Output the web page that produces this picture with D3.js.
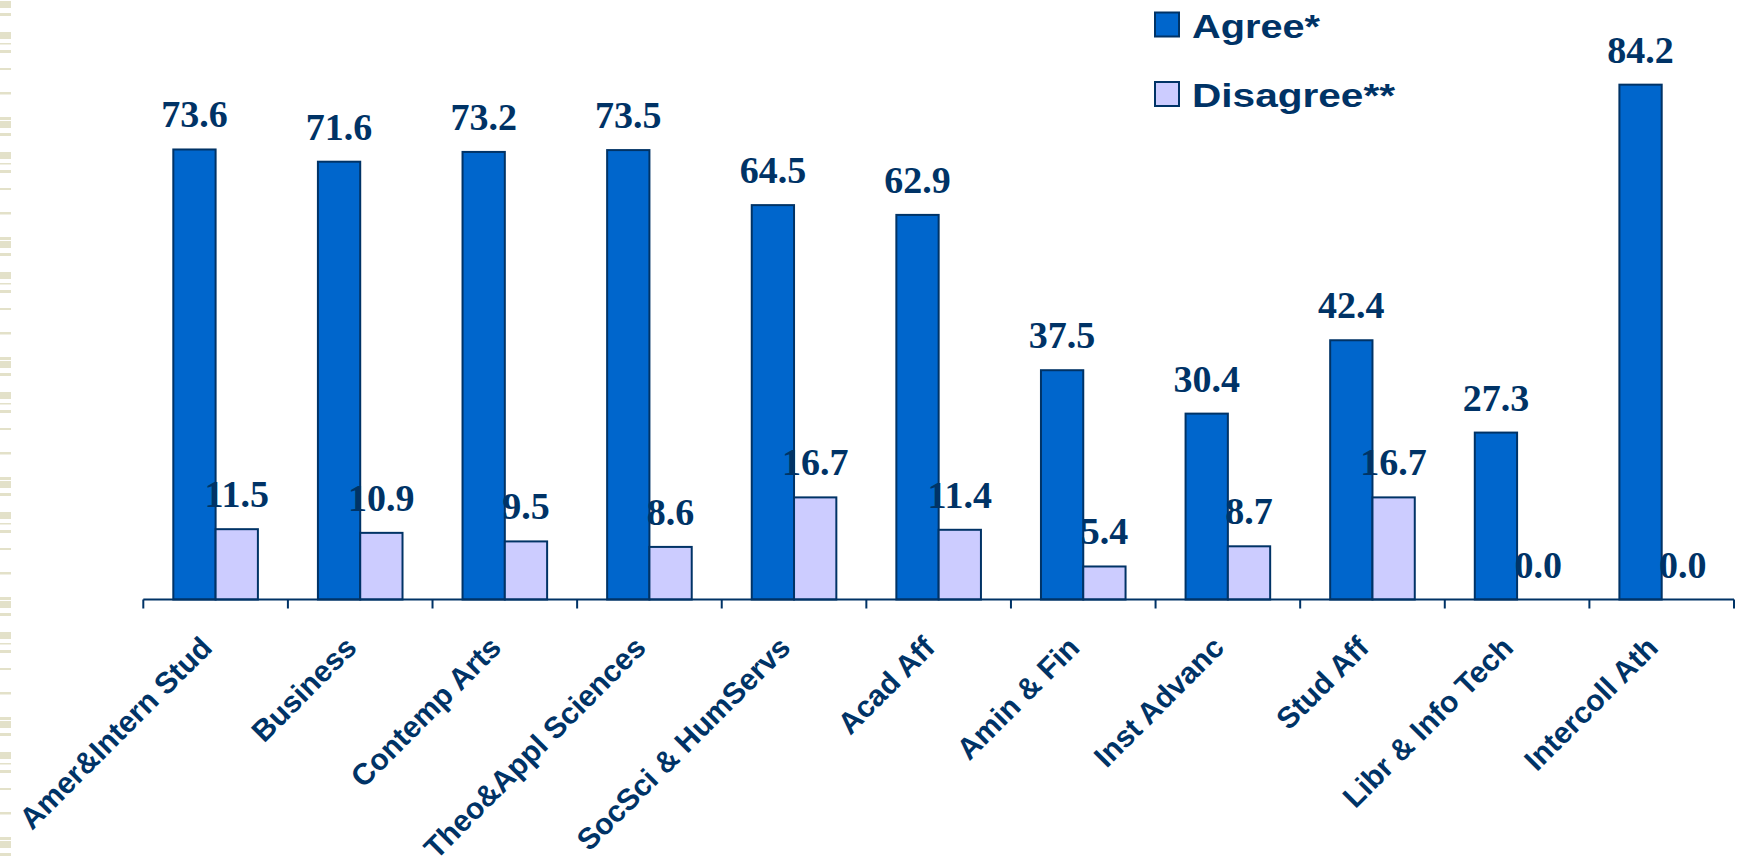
<!DOCTYPE html>
<html>
<head>
<meta charset="utf-8">
<script src="https://cdn.jsdelivr.net/npm/d3@7"></script>
<style>
  html, body { margin: 0; padding: 0; background: #ffffff; }
  svg { display: block; }
</style>
</head>
<body>
<svg id="chart" width="1738" height="861"></svg>
<script>
// Survey results by unit: share agreeing vs. disagreeing (%)
const categories = [
  "Amer&Intern Stud", "Business", "Contemp Arts", "Theo&Appl Sciences",
  "SocSci & HumServs", "Acad Aff", "Amin & Fin", "Inst Advanc",
  "Stud Aff", "Libr & Info Tech", "Intercoll Ath"
];
const agree    = [73.6, 71.6, 73.2, 73.5, 64.5, 62.9, 37.5, 30.4, 42.4, 27.3, 84.2];
const disagree = [11.5, 10.9, 9.5, 8.6, 16.7, 11.4, 5.4, 8.7, 16.7, 0.0, 0.0];
const seriesNames = ["Agree*", "Disagree**"];

const navy = "#003366";
const fills = ["#0066cc", "#ccccff"];

const svg = d3.select("#chart");

// Decorative striped strip along the left edge
const defs = svg.append("defs");
const pat = defs.append("pattern")
  .attr("id", "edgeStripes")
  .attr("patternUnits", "userSpaceOnUse")
  .attr("width", 11).attr("height", 120);
[[1, 7], [13, 3], [32, 7], [43, 1.5], [50, 3], [68, 2], [92, 2.5], [117, 3]]
  .forEach(([y, h]) => pat.append("rect")
    .attr("x", 0).attr("y", y).attr("width", 11).attr("height", h)
    .attr("fill", "#e3e1c9"));
svg.append("rect").attr("x", 0).attr("y", 0).attr("width", 11).attr("height", 861)
  .attr("fill", "url(#edgeStripes)");

const rows = categories.map((c, i) => ({ cat: c, values: [agree[i], disagree[i]] }));

const x0 = d3.scaleBand()
  .domain(categories)
  .range([143.3, 1734])
  .paddingInner(0.415)
  .paddingOuter(0.2075);

const x1 = d3.scaleBand()
  .domain(d3.range(seriesNames.length))
  .range([0, x0.bandwidth()])
  .padding(0);

const y = d3.scaleLinear().domain([0, 90]).range([599.5, 49.2]);

// Bars
const groups = svg.append("g").selectAll("g")
  .data(rows).join("g")
  .attr("transform", d => `translate(${x0(d.cat)},0)`);

groups.selectAll("rect")
  .data(d => d.values.map((v, k) => ({ v, k })))
  .join("rect")
  .attr("x", d => x1(d.k))
  .attr("y", d => y(d.v))
  .attr("width", x1.bandwidth())
  .attr("height", d => y(0) - y(d.v))
  .attr("fill", d => fills[d.k])
  .attr("stroke", navy)
  .attr("stroke-width", 2);

// Value labels
groups.selectAll("text")
  .data(d => d.values.map((v, k) => ({ v, k })))
  .join("text")
  .attr("x", d => x1(d.k) + x1.bandwidth() / 2)
  .attr("y", d => y(d.v) - 22)
  .attr("text-anchor", "middle")
  .attr("font-family", "'Liberation Serif', 'Times New Roman', serif")
  .attr("font-weight", "bold")
  .attr("font-size", 38)
  .attr("fill", navy)
  .text(d => d.v.toFixed(1));

// Category axis with ticks at band boundaries
const step = x0.step();
const x0Start = x0.range()[0];
const axisG = svg.append("g").attr("transform", `translate(0,${y(0)})`);
axisG.append("line")
  .attr("x1", x0Start).attr("x2", x0.range()[1])
  .attr("y1", 0).attr("y2", 0)
  .attr("stroke", navy).attr("stroke-width", 2);
axisG.selectAll("line.tick")
  .data(d3.range(categories.length + 1))
  .join("line")
  .attr("class", "tick")
  .attr("x1", i => x0Start + i * step).attr("x2", i => x0Start + i * step)
  .attr("y1", 0).attr("y2", 9)
  .attr("stroke", navy).attr("stroke-width", 2);

axisG.selectAll("text")
  .data(categories)
  .join("text")
  .attr("transform", d => `translate(${x0(d) + x0.bandwidth() / 2 - 2},50) rotate(-45)`)
  .attr("text-anchor", "end")
  .attr("font-family", "'Liberation Sans', Arial, sans-serif")
  .attr("font-weight", "bold")
  .attr("font-size", 30)
  .attr("fill", navy)
  .text(d => d);

// Legend
const legendRows = [
  { name: seriesNames[0], y: 12.5, w: 128 },
  { name: seriesNames[1], y: 82, w: 203 }
];
const legend = svg.append("g");
legendRows.forEach((r, k) => {
  legend.append("rect")
    .attr("x", 1155).attr("y", r.y).attr("width", 24).attr("height", 24)
    .attr("fill", fills[k]).attr("stroke", navy).attr("stroke-width", 2);
  legend.append("text")
    .attr("x", 1192).attr("y", r.y + 25)
    .attr("font-family", "'Liberation Sans', Arial, sans-serif")
    .attr("font-weight", "bold")
    .attr("font-size", 34)
    .attr("textLength", r.w)
    .attr("lengthAdjust", "spacingAndGlyphs")
    .attr("fill", navy)
    .text(r.name);
});
</script>
</body>
</html>
